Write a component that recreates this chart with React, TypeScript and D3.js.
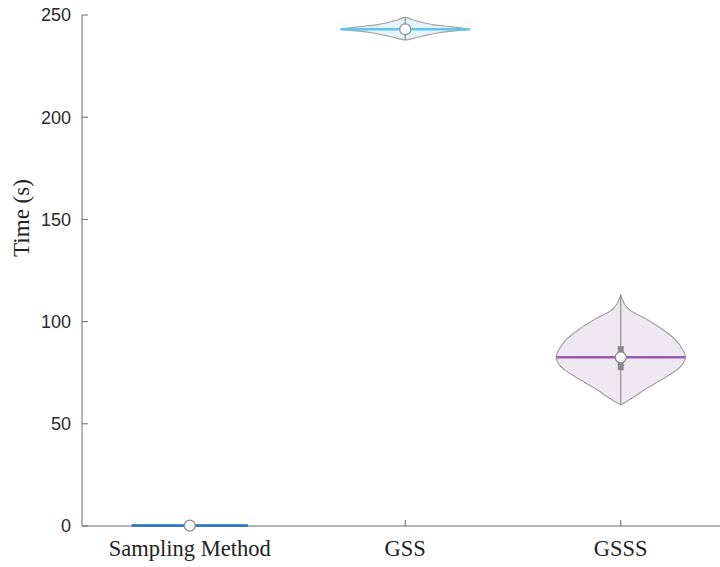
import React from "react";
import * as d3 from "d3";

// Categories and summary values (seconds)
const categories = ["Sampling Method", "GSS", "GSSS"];
const medians = [0.2, 243.0, 82.5];
const lowerQuartiles = [0.1, 242.6, 76.2];
const upperQuartiles = [0.3, 243.5, 88.0];
const minimums = [0.0, 237.8, 59.2];
const maximums = [0.4, 248.7, 113.0];
const yTicks = [0, 50, 100, 150, 200, 250];

// Kernel-density outlines: time values and relative half-widths
const gssDensityValues = [237.8, 238.6, 239.5, 240.3, 241.2, 242.0, 242.6, 243.0, 243.5, 244.3, 245.2, 246.1, 247.0, 247.8, 248.7];
const gssDensityWidths = [0.03, 0.12, 0.24, 0.36, 0.5, 0.68, 0.88, 1.0, 0.9, 0.7, 0.45, 0.3, 0.19, 0.1, 0.03];
const gsssDensityValues = [59.2, 62.6, 66.5, 71.4, 75.3, 78.8, 82.7, 86.1, 91.0, 95.9, 100.8, 105.7, 108.5, 110.6, 113.0];
const gsssDensityWidths = [0.0, 0.18, 0.36, 0.62, 0.82, 0.95, 1.0, 0.96, 0.85, 0.66, 0.42, 0.14, 0.06, 0.03, 0.0];
const samplingHalfWidth = 0.27;
const violinHalfWidth = 0.3;

const fills = ["#d9ecf8", "#e5f3fb", "#efe8f2"];
const medianColors = ["#1c74c4", "#62c3ee", "#9a5bb0"];

export default function App() {
  const width = 720;
  const height = 567;
  const x = d3.scaleLinear().domain([0.5, 3.5]).range([82, 728.5]);
  const y = d3.scaleLinear().domain([0, 250]).range([526, 15]);
  const unit = x(1) - x(0);

  const densities = [
    null,
    { v: gssDensityValues, w: gssDensityWidths },
    { v: gsssDensityValues, w: gsssDensityWidths },
  ];

  const axisColor = "#6b6b6b";

  return (
    <svg
      width={width}
      height={height}
      style={{ position: "absolute", left: 0, top: 0, background: "#fff" }}
    >
      {/* y axis */}
      <line x1={82} x2={82} y1={y(250)} y2={y(0)} stroke={axisColor} strokeWidth={1} />
      {yTicks.map((t) => (
        <g key={t}>
          <line x1={82} x2={88} y1={y(t)} y2={y(t)} stroke={axisColor} />
          <text
            x={71}
            y={y(t)}
            dy="0.35em"
            textAnchor="end"
            fontFamily="Liberation Sans, Arial, sans-serif"
            fontSize={18}
            fill="#2a2a2a"
          >
            {t}
          </text>
        </g>
      ))}

      {/* x axis */}
      <line x1={82} x2={width} y1={y(0)} y2={y(0)} stroke={axisColor} strokeWidth={1} />
      {categories.map((c, i) => (
        <g key={c}>
          <line x1={x(i + 1)} x2={x(i + 1)} y1={y(0)} y2={y(0) - 6} stroke={axisColor} />
          <text
            x={x(i + 1)}
            y={556}
            textAnchor="middle"
            fontFamily="Liberation Serif, Times New Roman, serif"
            fontSize={22.5}
            fill="#222"
          >
            {c}
          </text>
        </g>
      ))}

      <text
        transform="translate(28.5, 218) rotate(-90)"
        textAnchor="middle"
        fontFamily="Liberation Serif, Times New Roman, serif"
        fontSize={23}
        fill="#222"
      >
        Time (s)
      </text>

      {categories.map((c, i) => {
        const cx = x(i + 1);
        const d = densities[i];
        if (!d) {
          const hw = samplingHalfWidth * unit;
          return (
            <g key={c}>
              <line x1={cx - hw} x2={cx + hw} y1={y(medians[i])} y2={y(medians[i])} stroke={medianColors[i]} strokeWidth={2.5} />
              <circle cx={cx} cy={y(medians[i])} r={5.5} fill="#fff" stroke="#8c8c8c" strokeWidth={1.2} />
            </g>
          );
        }
        const pts = d.v.map((v, k) => ({ v, w: d.w[k] * violinHalfWidth * unit }));
        const area = d3
          .area<{ v: number; w: number }>()
          .y((p) => y(p.v))
          .x0((p) => cx - p.w)
          .x1((p) => cx + p.w)
          .curve(d3.curveCatmullRom.alpha(0.5));
        const path = area(pts) || "";
        // half-width at the median
        const medW = d3.scaleLinear().domain(d.v).range(d.w)(medians[i]) * violinHalfWidth * unit;
        return (
          <g key={c}>
            <path d={path} fill={fills[i]} stroke="#a3a3a3" strokeWidth={1.2} />
            <line x1={cx} x2={cx} y1={y(minimums[i])} y2={y(maximums[i])} stroke="#8f8f8f" strokeWidth={1.2} />
            <rect
              x={cx - 3}
              width={6}
              y={y(upperQuartiles[i])}
              height={y(lowerQuartiles[i]) - y(upperQuartiles[i])}
              fill="#8a8a8a"
            />
            <line x1={cx - medW} x2={cx + medW} y1={y(medians[i])} y2={y(medians[i])} stroke={medianColors[i]} strokeWidth={2.5} />
            <circle cx={cx} cy={y(medians[i])} r={5.5} fill="#fff" stroke="#8c8c8c" strokeWidth={1.2} />
          </g>
        );
      })}
    </svg>
  );
}
